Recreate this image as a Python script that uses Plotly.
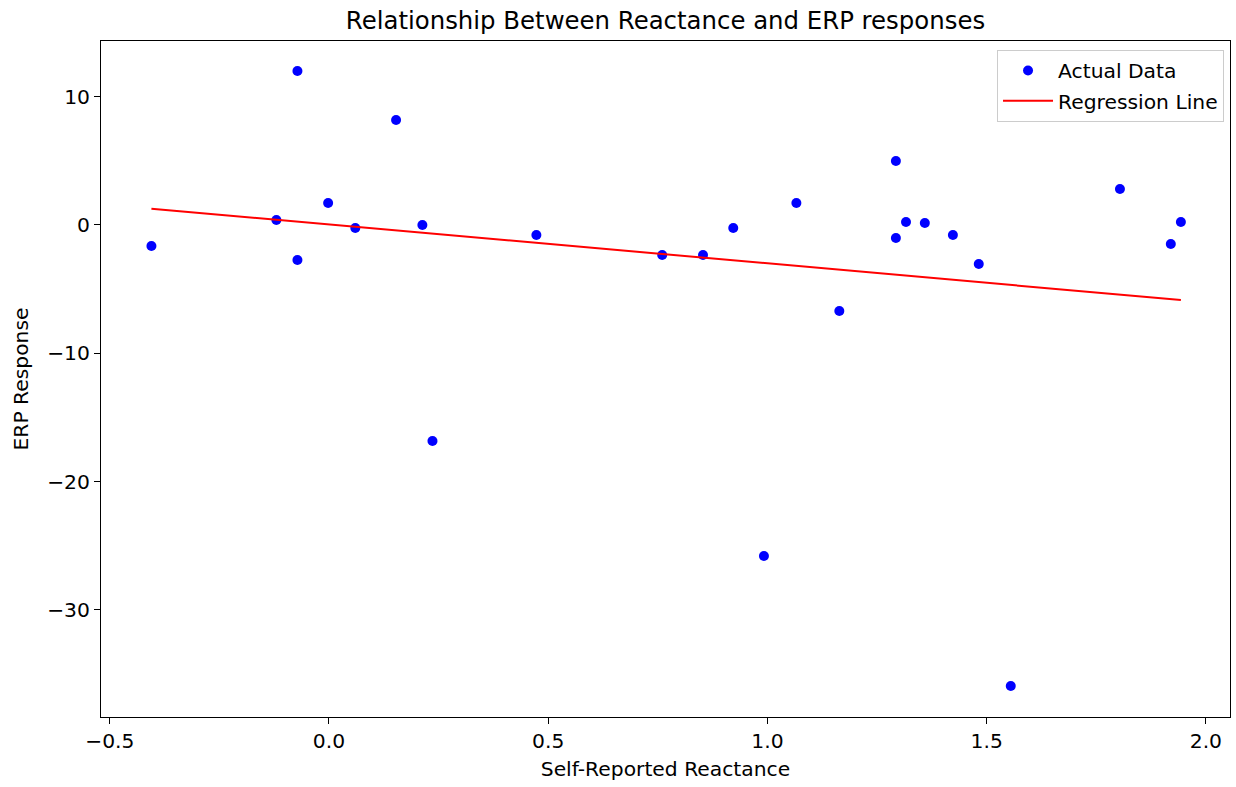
import plotly.graph_objects as go

# Data
reactance = [-0.405, -0.120, -0.072, -0.072, -0.002, 0.060, 0.153, 0.213, 0.236,
             0.473, 0.760, 0.853, 0.922, 0.992, 1.066, 1.164, 1.293, 1.293,
             1.316, 1.359, 1.423, 1.482, 1.555, 1.804, 1.920, 1.943]
erp = [-1.64, 0.39, 12.0, -2.73, 1.71, -0.23, 8.18, 0.0, -16.84,
       -0.78, -2.34, -2.34, -0.23, -25.8, 1.71, -6.70, 4.99, -1.01,
       0.23, 0.16, -0.78, -3.04, -35.93, 2.81, -1.48, 0.23]
line_x = [min(reactance), max(reactance)]
line_y = [1.27, -5.85]

x_ticks = [-0.5, 0.0, 0.5, 1.0, 1.5, 2.0]
x_tick_labels = ["\u22120.5", "0.0", "0.5", "1.0", "1.5", "2.0"]
y_ticks = [10, 0, -10, -20, -30]
y_tick_labels = ["10", "0", "\u221210", "\u221220", "\u221230"]

FONT = "DejaVu Sans"
FS = 20.3

fig = go.Figure()
fig.add_trace(go.Scatter(
    x=reactance, y=erp, mode="markers", name="Actual Data", legendgroup="a",
    marker=dict(color="#0000ff", size=10, line=dict(width=0)),
))
fig.add_trace(go.Scatter(
    x=line_x, y=line_y, mode="lines", name="Regression Line", legendgroup="b",
    line=dict(color="#ff0000", width=2),
))

axis_common = dict(
    showgrid=False, zeroline=False, showline=True, linecolor="black",
    linewidth=1, mirror=True, ticks="outside", ticklen=6, tickwidth=1,
    tickcolor="black", tickfont=dict(family=FONT, size=FS, color="black"),
)

fig.update_layout(
    width=1236, height=787,
    margin=dict(l=101, r=6, t=41, b=70),
    paper_bgcolor="white", plot_bgcolor="white",
    font=dict(family=FONT, color="black"),
    title=dict(
        text="Relationship Between Reactance and ERP responses",
        x=(101 + 1230) / 2 / 1236, xanchor="center",
        y=1 - 20 / 787, yanchor="middle", yref="container",
        font=dict(family=FONT, size=24.4, color="black"),
    ),
    xaxis=dict(
        range=[-0.520, 2.055], tickvals=x_ticks, ticktext=x_tick_labels,
        title=dict(text="Self-Reported Reactance", standoff=9,
                   font=dict(family=FONT, size=FS, color="black")),
        **axis_common,
    ),
    yaxis=dict(
        range=[-38.35, 14.34], tickvals=y_ticks, ticktext=y_tick_labels,
        title=dict(text="ERP Response", standoff=13,
                   font=dict(family=FONT, size=FS, color="black")),
        **axis_common,
    ),
    legend=dict(
        x=0.9947, y=0.987, xanchor="right", yanchor="top",
        bgcolor="rgba(255,255,255,0.8)", bordercolor="#cccccc", borderwidth=1,
        font=dict(family=FONT, size=FS, color="black"),
        tracegroupgap=1, itemwidth=50,
    ),
    showlegend=True,
)

fig.write_html("out.html")
